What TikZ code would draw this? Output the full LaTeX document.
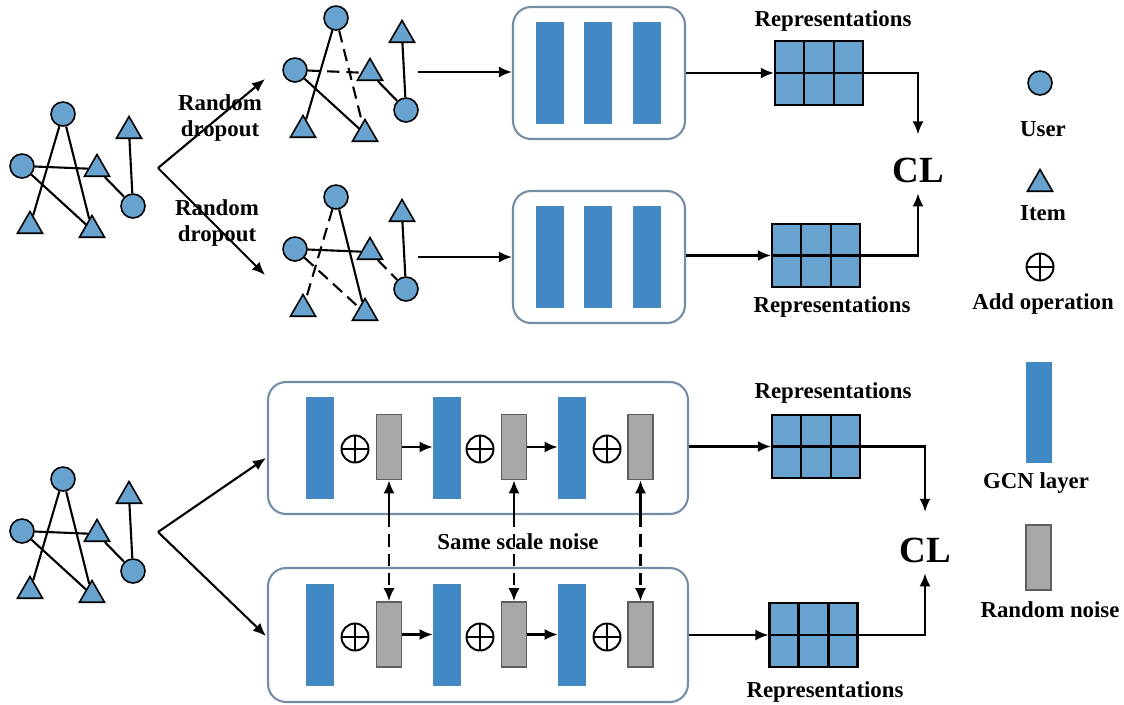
\documentclass[tikz,border=0pt]{standalone}
\usepackage{fontspec}
\setmainfont{Liberation Serif}
\usepackage{tikz}
\usetikzlibrary{arrows.meta,positioning,shapes.geometric,calc}

\definecolor{nodeblue}{RGB}{104,162,207}
\definecolor{gcnblue}{RGB}{64,137,196}
\definecolor{boxedge}{RGB}{118,142,165}
\definecolor{noisegray}{RGB}{168,168,168}
\definecolor{noiseedge}{RGB}{95,95,95}

% user-item graph, placed with a shift (in pixels of the layout)
\newcommand{\graphnodes}[3]{%
  \begin{scope}[shift={(#2,#3)}]
    \node[user] (#1-u1) at (63,114) {};
    \node[user] (#1-u2) at (22,166) {};
    \node[user] (#1-u3) at (133,206) {};
    \node[item] (#1-i1) at (97,169) {};
    \node[item] (#1-i2) at (129,131) {};
    \node[item] (#1-i3) at (30,226) {};
    \node[item] (#1-i4) at (92,230) {};
  \end{scope}}

% 2x3 representation block
\newcommand{\repgrid}[3]{%
  \node[rep] (#1) at (#2,#3) {};
  \draw[line width=1.3pt] (#1.west) -- (#1.east)
    ($(#1.north west)!1/3!(#1.north east)$) -- ($(#1.south west)!1/3!(#1.south east)$)
    ($(#1.north west)!2/3!(#1.north east)$) -- ($(#1.south west)!2/3!(#1.south east)$);}

\begin{document}
\begin{tikzpicture}[x=0.02cm, y=-0.02cm,
  user/.style={circle, draw, fill=nodeblue, line width=0.9pt, minimum size=0.48cm, inner sep=0},
  item/.style={regular polygon, regular polygon sides=3, draw, fill=nodeblue, line width=0.9pt, minimum size=0.58cm, inner sep=0},
  link/.style={line width=1.2pt},
  drop/.style={line width=1.2pt, dash pattern=on 7pt off 4pt},
  arrow/.style={-{Latex[length=2.6mm,width=2.2mm]}, line width=1.2pt},
  encoder/.style={draw=boxedge, line width=1.2pt, rounded corners=0.36cm},
  gcn/.style={fill=gcnblue, draw=gcnblue!85!gray, minimum width=0.54cm, minimum height=2.03cm, inner sep=0},
  noise/.style={fill=noisegray, draw=noiseedge, line width=0.9pt, minimum width=0.5cm, minimum height=1.3cm, inner sep=0},
  addop/.style={circle, draw, line width=1.1pt, minimum size=0.54cm, inner sep=0,
    path picture={\draw[line width=1.1pt] (path picture bounding box.north) -- (path picture bounding box.south)
      (path picture bounding box.west) -- (path picture bounding box.east);}},
  rep/.style={draw, fill=nodeblue, line width=1.3pt, minimum width=1.76cm, minimum height=1.27cm, inner sep=0},
  lbl/.style={font=\fontsize{13}{15}\selectfont\bfseries, align=center, inner sep=0},
  cl/.style={font=\fontsize{21}{21}\selectfont\bfseries, inner sep=0},
]
\useasboundingbox (0,0) rectangle (1124,704);

% graphs
\graphnodes{g1}{0}{0}
\graphnodes{g2}{273}{-96}
\graphnodes{g3}{273}{83}
\graphnodes{g4}{0}{365}

\draw[link] (g1-u1) -- (g1-i3) (g1-u1) -- (g1-i4) (g1-u2) -- (g1-i1)
  (g1-u2) -- (g1-i4) (g1-i1) -- (g1-u3) (g1-u3) -- (g1-i2);
\draw[link] (g4-u1) -- (g4-i3) (g4-u1) -- (g4-i4) (g4-u2) -- (g4-i1)
  (g4-u2) -- (g4-i4) (g4-i1) -- (g4-u3) (g4-u3) -- (g4-i2);
\draw[link] (g2-u1) -- (g2-i3) (g2-u2) -- (g2-i4) (g2-i1) -- (g2-u3) (g2-u3) -- (g2-i2);
\draw[drop] (g2-u1) -- (g2-i4) (g2-u2) -- (g2-i1);
\draw[link] (g3-u1) -- (g3-i4) (g3-u2) -- (g3-i1) (g3-u3) -- (g3-i2);
\draw[drop] (g3-u1) -- (g3-i3) (g3-u2) -- (g3-i4) (g3-i1) -- (g3-u3);

% random dropout branch
\coordinate (br1) at (158,168);
\coordinate (br1up) at (265,79);
\coordinate (br1dn) at (265,275);
\draw[arrow] (br1) -- (br1up);
\draw[arrow] (br1) -- (br1dn);
\node[lbl] (drop1) at (220,118) {Random\\dropout};
\node[lbl] (drop2) at (217,223) {Random\\dropout};

% top encoders
\node[encoder, minimum width=3.44cm, minimum height=2.64cm] (enc1) at (599,73) {};
\node[encoder, minimum width=3.44cm, minimum height=2.64cm] (enc2) at (599,257) {};
\foreach \x [count=\k] in {549.5,598,646.5} {
  \node[gcn] (l1\k) at (\x,73) {};
  \node[gcn] (l2\k) at (\x,257) {};
}
\coordinate (g2out) at (418,72);
\coordinate (g3out) at (418,257);
\draw[arrow] (g2out) -- (g2out -| enc1.west);
\draw[arrow] (g3out) -- (g3out -| enc2.west);

% noise branch
\coordinate (br4) at (158,532);
\coordinate (br4up) at (266,458);
\coordinate (br4dn) at (266,636);
\draw[arrow] (br4) -- (br4up);
\draw[arrow] (br4) -- (br4dn);

% bottom encoders
\node[encoder, minimum width=8.4cm, minimum height=2.64cm] (enc3) at (478,448) {};
\node[encoder, minimum width=8.4cm, minimum height=2.68cm] (enc4) at (478,635) {};
\foreach \gx/\ax/\nx [count=\k] in {319.5/355/389, 446.5/480/514, 571.5/607/640.5} {
  \node[gcn] (l3\k) at (\gx,448) {};
  \node[addop] (a3\k) at (\ax,449) {};
  \node[noise] (n3\k) at (\nx,447) {};
  \node[gcn] (l4\k) at (\gx,635) {};
  \node[addop] (a4\k) at (\ax,637) {};
  \node[noise] (n4\k) at (\nx,634.5) {};
  \draw[arrow] (n3\k.south |- enc3.south) -- (n3\k.south);
  \draw[arrow, dash pattern=on 7pt off 4pt] (n3\k.south |- enc3.south) -- (n4\k.north);
}
\foreach \i/\j in {1/2,2/3} {
  \draw[arrow] (n3\i.east) -- (n3\i.east -| l3\j.west);
  \draw[arrow] (n4\i.east) -- (n4\i.east -| l4\j.west);
}
\node[lbl] (same) at (518,542) {Same scale noise};

% representations
\repgrid{rep1}{819}{73}
\repgrid{rep2}{816}{255.5}
\repgrid{rep3}{816}{446.5}
\repgrid{rep4}{813.5}{635}
\node[lbl] (rep1-lbl) at (833,21) {Representations};
\node[lbl] (rep2-lbl) at (832,307) {Representations};
\node[lbl] (rep3-lbl) at (833,393) {Representations};
\node[lbl] (rep4-lbl) at (825,692) {Representations};

\draw[arrow] (enc1.east |- rep1.west) -- (rep1.west);
\draw[arrow] (enc2.east |- rep2.west) -- (rep2.west);
\draw[arrow] (enc3.east |- rep3.west) -- (rep3.west);
\draw[arrow] (enc4.east |- rep4.west) -- (rep4.west);

% contrastive loss
\node[cl] (cl1) at (918,170) {CL};
\node[cl] (cl2) at (925,550) {CL};
\draw[arrow] (rep1.east) -| ([yshift=13pt]cl1.north);
\draw[arrow] (rep2.east) -| ([yshift=-6pt]cl1.south);
\draw[arrow] (rep3.east) -| ([yshift=14.5pt]cl2.north);
\draw[arrow] (rep4.east) -| ([yshift=-6pt]cl2.south);

% legend
\node[user] (leg-user) at (1040,83) {};
\node[lbl] (leg-user-lbl) at (1043,129) {User};
\node[item] (leg-item) at (1040,184) {};
\node[lbl] (leg-item-lbl) at (1043,213) {Item};
\node[addop] (leg-add) at (1040,267) {};
\node[lbl] (leg-add-lbl) at (1043,304) {Add operation};
\node[gcn, draw=none, minimum width=0.52cm] (leg-gcn) at (1039,412.5) {};
\node[lbl] (leg-gcn-lbl) at (1036,483) {GCN layer};
\node[noise] (leg-noise) at (1038.5,557.5) {};
\node[lbl] (leg-noise-lbl) at (1050,610) {Random noise};

\end{tikzpicture}
\end{document}
